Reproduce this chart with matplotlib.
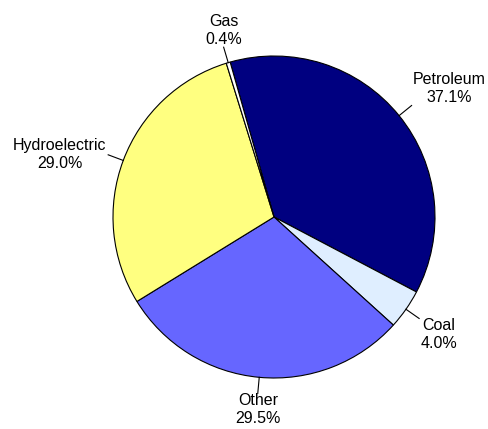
import numpy as np
import matplotlib
matplotlib.use("Agg")
import matplotlib.pyplot as plt

labels = ["Petroleum", "Coal", "Other", "Hydroelectric", "Gas"]
shares = [37.1, 4.0, 29.5, 29.0, 0.4]
colors = ["#000080", "#dfeeff", "#6666ff", "#ffff80", "#ffffff"]

plt.rcParams["font.family"] = ["Liberation Sans", "DejaVu Sans"]

fig = plt.figure(figsize=(4.89, 4.29), dpi=100)
ax = fig.add_axes([0, 0, 1, 1])

# pie center (274, 217) px, radius 161 px
wedges, _ = ax.pie(shares, colors=colors, startangle=105.8, counterclock=False,
                   radius=1.0, center=(0, 0),
                   wedgeprops=dict(edgecolor="black", linewidth=0.8))
ax.set_xlim(-274 / 161, (489 - 274) / 161)
ax.set_ylim(-(429 - 217) / 161, 217 / 161)
ax.axis("off")

for w, name, val in zip(wedges, labels, shares):
    ang = np.deg2rad((w.theta1 + w.theta2) / 2)
    c, s = np.cos(ang), np.sin(ang)
    x1, y1 = 1.1 * c, 1.1 * s
    ax.plot([c, x1], [s, y1], color="black", lw=0.8)
    ha = "left" if c > 0.3 else ("right" if c < -0.3 else "center")
    va = "bottom" if s > 0.5 else ("top" if s < -0.5 else "center")
    ax.text(x1 + 0.01 * np.sign(c) * (ha != "center"), y1, f"{name}\n{val:.1f}%",
            ha=ha, va=va, multialignment="center", fontsize=11.5, linespacing=1.25)

fig.savefig("out.png", dpi=100)
